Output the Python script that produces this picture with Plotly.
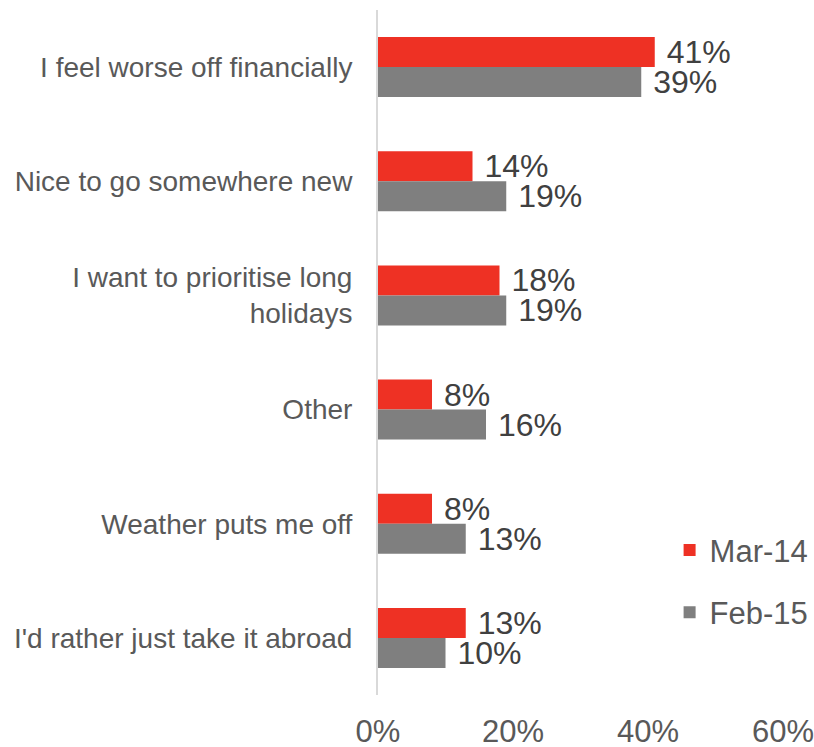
import plotly.graph_objects as go

categories = [
    "I feel worse off financially",
    "Nice to go somewhere new",
    "I want to prioritise long<br>holidays",
    "Other",
    "Weather puts me off",
    "I'd rather just take it abroad",
]
mar14 = [0.41, 0.14, 0.18, 0.08, 0.08, 0.13]
feb15 = [0.39, 0.19, 0.19, 0.16, 0.13, 0.10]
series_names = ["Mar-14", "Feb-15"]
tick_vals = [0, 0.2, 0.4, 0.6]
tick_text = ["0%", "20%", "40%", "60%"]

FONT = "Liberation Sans, Arial, sans-serif"
LABEL_GREY = "#595959"
VALUE_GREY = "#404040"

fig = go.Figure()
for name, vals, color, grp in [
    (series_names[0], mar14, "#EE3124", "a"),
    (series_names[1], feb15, "#7F7F7F", "b"),
]:
    fig.add_trace(go.Bar(
        y=categories, x=vals, name=name, orientation="h",
        marker=dict(color=color, line=dict(width=0)),
        text=vals, texttemplate="\u00a0%{x:.0%}",
        textposition="outside", cliponaxis=False, constraintext="none",
        textfont=dict(family=FONT, size=32, color=VALUE_GREY),
        legendgroup=grp,
    ))

fig.update_layout(
    width=814, height=747,
    margin=dict(l=378, r=31, t=10, b=52, autoexpand=False),
    paper_bgcolor="white", plot_bgcolor="white",
    barmode="group", bargap=0.474, bargroupgap=0,
    font=dict(family=FONT, color=LABEL_GREY),
    legend=dict(
        x=0.72, y=0.166, xanchor="left", yanchor="middle",
        font=dict(family=FONT, size=31, color=LABEL_GREY),
        traceorder="grouped", tracegroupgap=19,
        itemwidth=30, bgcolor="rgba(0,0,0,0)",
    ),
    xaxis=dict(
        range=[0, 0.6], tickvals=tick_vals, ticktext=tick_text,
        showgrid=False, zeroline=False, showline=False, automargin=False,
        tickfont=dict(family=FONT, size=31, color=LABEL_GREY),
        ticks="", ticklabelstandoff=15, ticklabeloverflow="allow",
    ),
    yaxis=dict(
        autorange="reversed", showgrid=False, zeroline=False, automargin=False,
        showline=True, linecolor="#D9D9D9", linewidth=2,
        ticks="", ticklabelstandoff=18,
        tickfont=dict(family=FONT, size=28, color=LABEL_GREY),
    ),
)

fig.write_html("out.html")
